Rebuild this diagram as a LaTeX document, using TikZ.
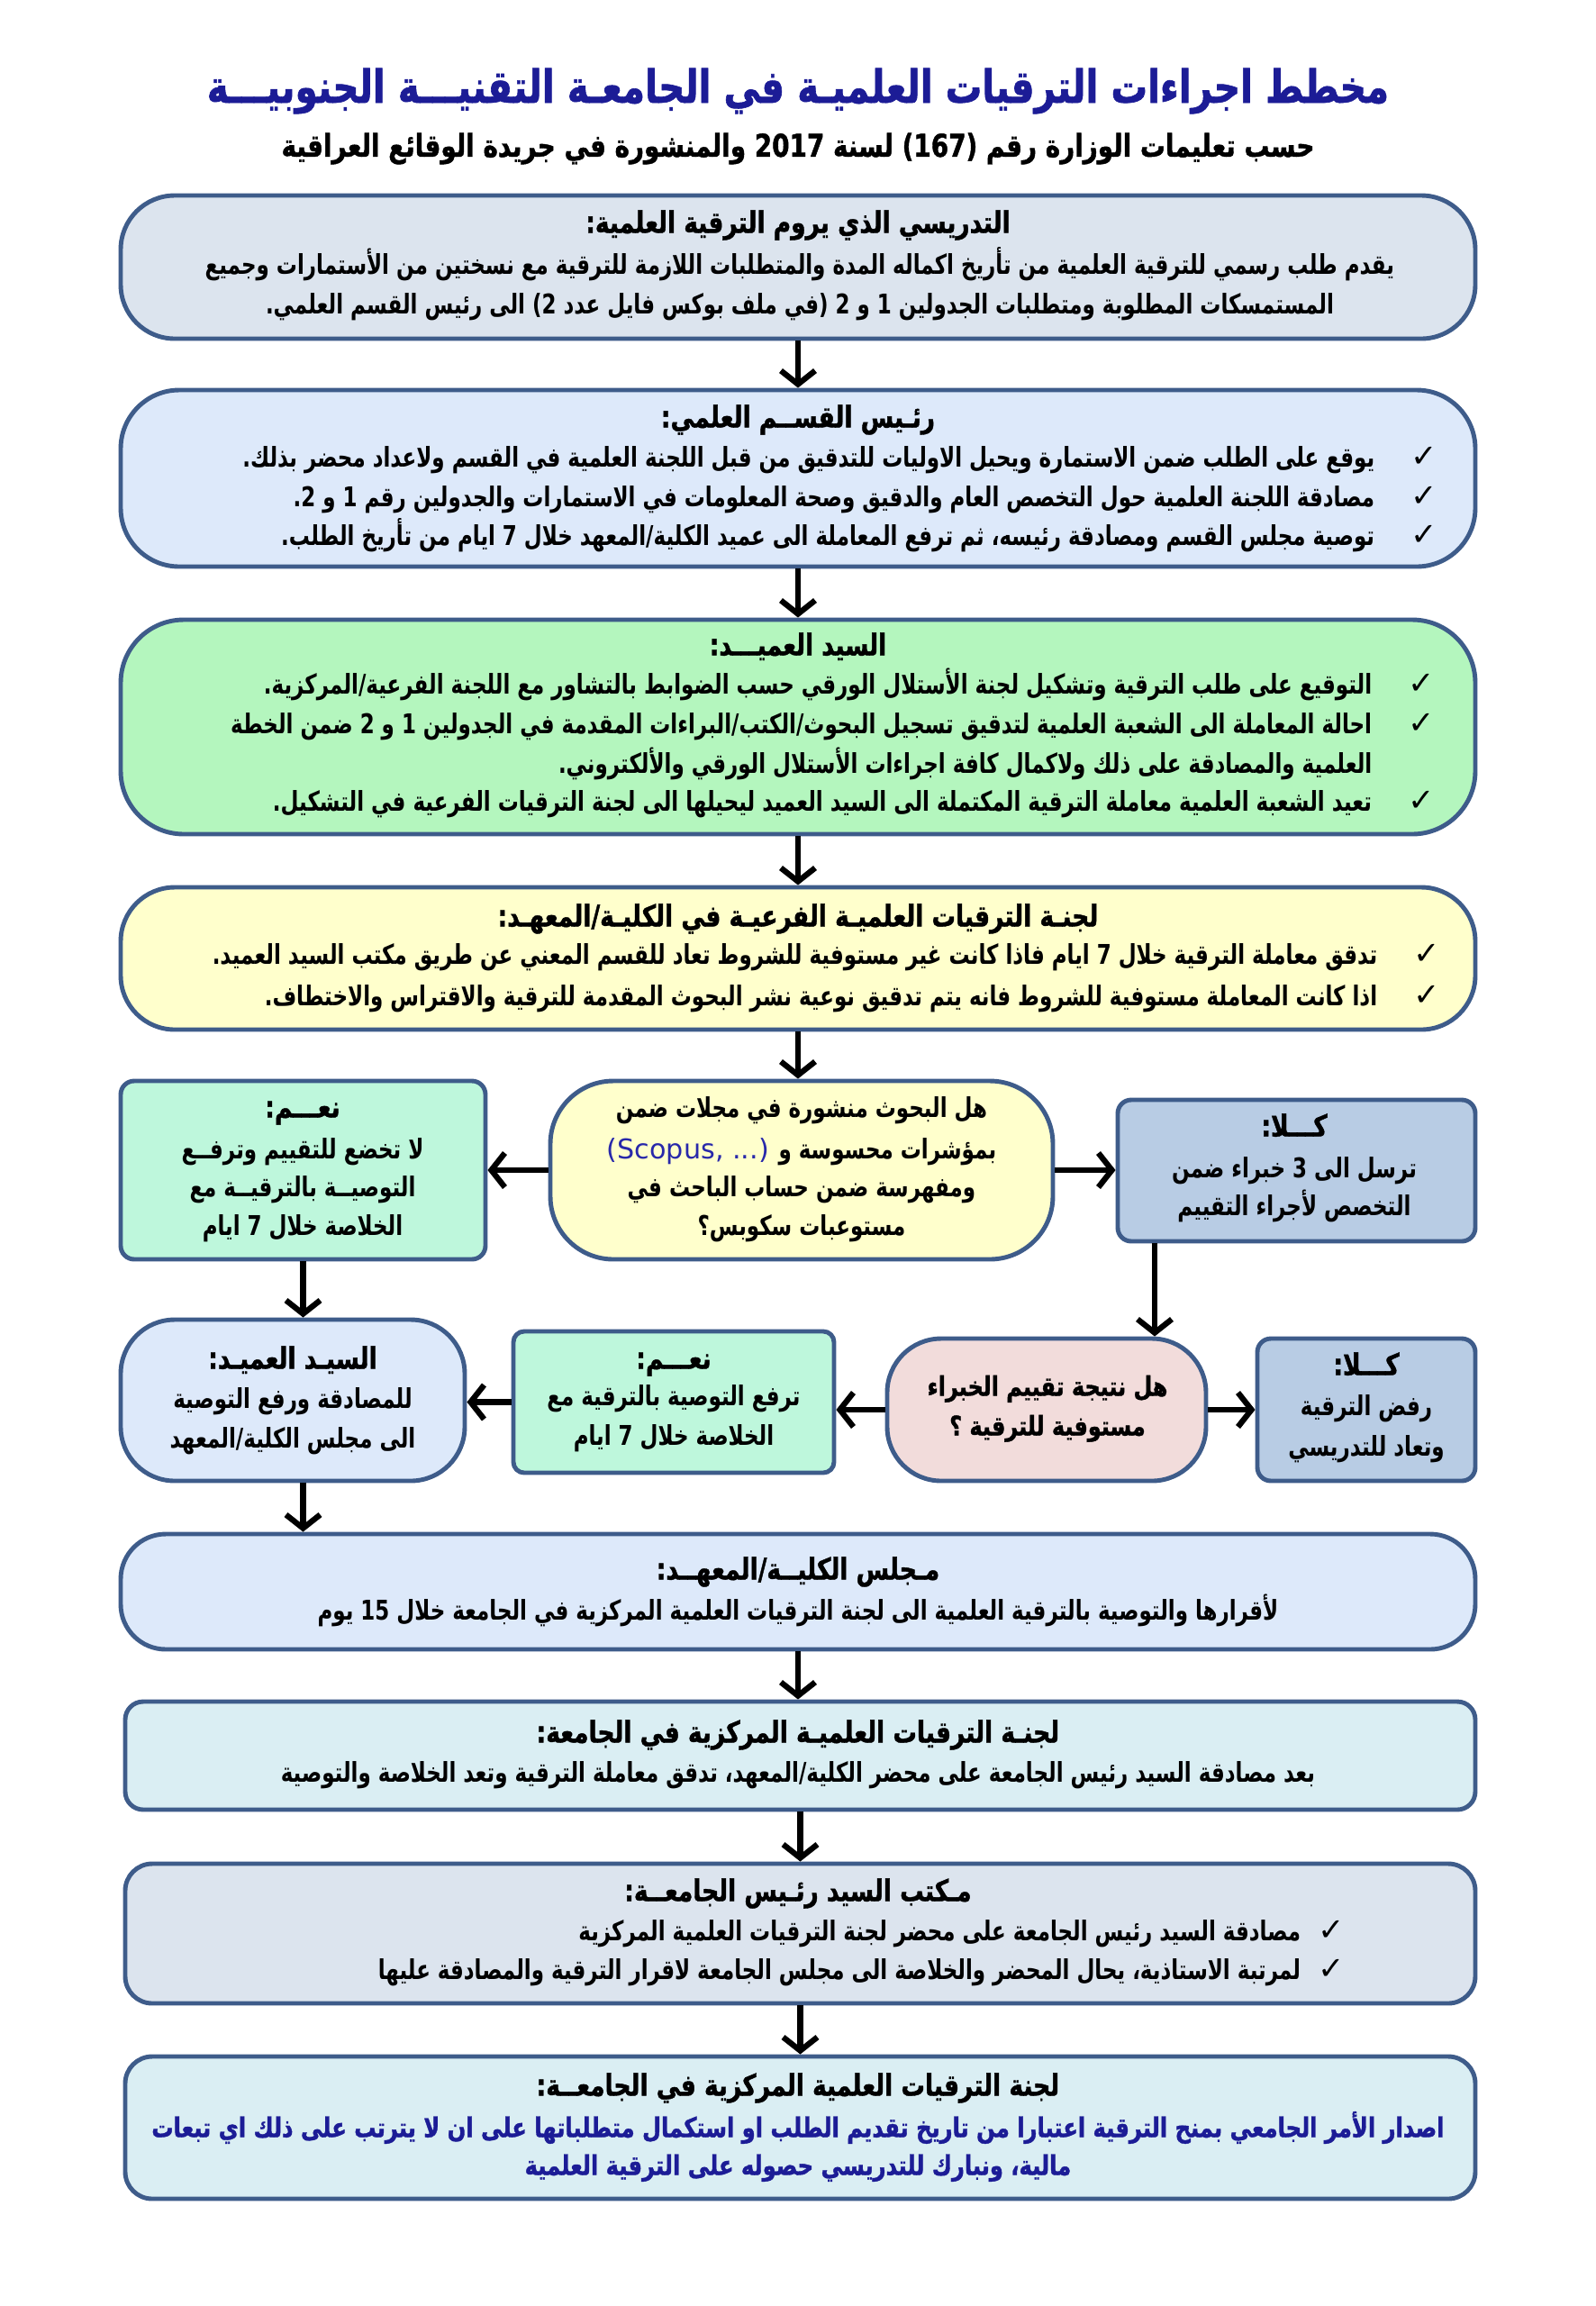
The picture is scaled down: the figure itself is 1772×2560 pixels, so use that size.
\documentclass[tikz,border=0pt]{standalone}
\usepackage{fontspec}
\usetikzlibrary{arrows.meta}
\TeXXeTstate=1
\newfontfamily\ar[Script=Arabic,FakeStretch=0.8]{DejaVu Sans}
\newfontfamily\arh[Script=Arabic,FakeStretch=0.8,FakeBold=1.2]{DejaVu Sans Bold}
\newfontfamily\arb[Script=Arabic,FakeStretch=0.76]{DejaVu Sans}
\newfontfamily\latf{DejaVu Sans}
\newcommand\rtl[1]{\beginR#1\endR}
\definecolor{bd}{RGB}{62,92,138}
\definecolor{cA}{RGB}{220,228,238}
\definecolor{cB}{RGB}{221,233,250}
\definecolor{cG}{RGB}{180,246,190}
\definecolor{cY}{RGB}{255,255,204}
\definecolor{cM}{RGB}{190,247,220}
\definecolor{cK}{RGB}{184,204,228}
\definecolor{cP}{RGB}{242,220,219}
\definecolor{cC}{RGB}{218,238,243}
\definecolor{tb}{RGB}{28,28,150}
\definecolor{sc}{RGB}{40,40,170}
\tikzset{
  box/.style={draw=bd, line width=1.4pt, inner sep=0pt},
  txt/.style={inner sep=0pt, font=\arb\bfseries\fontsize{8.6}{11}\selectfont, text height=2.3mm, text depth=0.8mm},
  hd/.style={txt, font=\arh\fontsize{9.4}{11}\selectfont},
  chk/.style={inner sep=0pt, font=\latf\fontsize{10}{11}\selectfont, text height=2.3mm, text depth=0.8mm},
  arr/.style={line width=1.8pt, -{Straight Barb[length=1.5mm,width=3.8mm]}},
}
\begin{document}
\begin{tikzpicture}[x=0.1mm,y=-0.1mm]
\useasboundingbox (0,0) rectangle (1772,2560);
% title
\node[inner sep=0pt, font=\arh\fontsize{14.4}{18}\selectfont, text=tb] (title) at (886,101) {\rtl{مخطط اجراءات الترقيات العلميـة في الجامعـة التقنيـــة الجنوبيـــة}};
\node[inner sep=0pt, font=\arh\fontsize{9.9}{13}\selectfont] (sub) at (886,165) {\rtl{حسب تعليمات الوزارة رقم (167) لسنة 2017 والمنشورة في جريدة الوقائع العراقية}};
% boxes
\node[box, fill=cA, rounded corners=6mm, minimum width=150.4mm, minimum height=15.9mm] (b1) at (886,296.5) {};
\node[box, fill=cB, rounded corners=6.5mm, minimum width=150.4mm, minimum height=19.6mm] (b2) at (886,531) {};
\node[box, fill=cG, rounded corners=7mm, minimum width=150.4mm, minimum height=23.8mm] (b3) at (886,807) {};
\node[box, fill=cY, rounded corners=6mm, minimum width=150.4mm, minimum height=15.8mm] (b4) at (886,1064) {};
\node[box, fill=cM, rounded corners=1.5mm, minimum width=40.5mm, minimum height=19.8mm] (n1) at (336.5,1299) {};
\node[box, fill=cY, rounded corners=7mm, minimum width=55.8mm, minimum height=19.8mm] (c) at (890,1299) {};
\node[box, fill=cK, rounded corners=1.5mm, minimum width=39.7mm, minimum height=15.7mm] (k1) at (1439.5,1299.5) {};
\node[box, fill=cB, rounded corners=6mm, minimum width=38.2mm, minimum height=17.9mm] (d2l) at (325,1554.5) {};
\node[box, fill=cM, rounded corners=1.2mm, minimum width=35.6mm, minimum height=15.7mm] (m2) at (748,1556.5) {};
\node[box, fill=cP, rounded corners=6mm, minimum width=35.4mm, minimum height=15.8mm] (p) at (1162,1565) {};
\node[box, fill=cK, rounded corners=1.5mm, minimum width=24.2mm, minimum height=15.8mm] (k2) at (1517,1565) {};
\node[box, fill=cB, rounded corners=5mm, minimum width=150.4mm, minimum height=12.8mm] (mj) at (886,1767) {};
\node[box, fill=cC, rounded corners=2mm, minimum width=149.9mm, minimum height=12.0mm] (cc) at (888.5,1949) {};
\node[box, fill=cA, rounded corners=3mm, minimum width=149.9mm, minimum height=15.5mm] (mk) at (888.5,2146.5) {};
\node[box, fill=cC, rounded corners=3mm, minimum width=149.9mm, minimum height=15.8mm] (last) at (888.5,2362) {};
% box 1 text
\node[hd] (b1h) at (886,251) {\rtl{التدريسي الذي يروم الترقية العلمية:}};
\node[txt] (b1a) at (888,297) {\rtl{يقدم طلب رسمي  للترقية العلمية من تأريخ اكماله المدة والمتطلبات اللازمة للترقية مع نسختين من الأستمارات وجميع}};
\node[txt] (b1b) at (888,341) {\rtl{المستمسكات المطلوبة ومتطلبات الجدولين 1 و 2  (في ملف بوكس فايل عدد 2) الى رئيس القسم العلمي.}};
% box 2 text
\node[hd] (b2h) at (886,467) {\rtl{رئـيس القســم العلمي:}};
\node[txt, anchor=east] (b2a) at (1527,511) {\rtl{يوقع على الطلب ضمن الاستمارة ويحيل الاوليات للتدقيق من قبل اللجنة العلمية في القسم ولاعداد محضر بذلك.}};
\node[txt, anchor=east] (b2b) at (1527,555) {\rtl{مصادقة اللجنة العلمية حول التخصص العام والدقيق وصحة المعلومات في الاستمارات والجدولين رقم 1 و 2.}};
\node[txt, anchor=east] (b2c) at (1527,598) {\rtl{توصية مجلس القسم ومصادقة رئيسه، ثم ترفع المعاملة الى عميد الكلية/المعهد خلال 7 ايام من تأريخ الطلب.}};
\node[chk] (b2k1) at (1581,511) {✓};
\node[chk] (b2k2) at (1581,555) {✓};
\node[chk] (b2k3) at (1581,598) {✓};
% box 3 text
\node[hd] (b3h) at (886,720) {\rtl{السيد العميـــد:}};
\node[txt, anchor=east] (b3a) at (1524,763) {\rtl{التوقيع على طلب الترقية وتشكيل لجنة الأستلال الورقي حسب الضوابط بالتشاور مع اللجنة الفرعية/المركزية.}};
\node[txt, anchor=east] (b3b) at (1524,807) {\rtl{احالة المعاملة الى الشعبة العلمية لتدقيق تسجيل البحوث/الكتب/البراءات المقدمة في الجدولين 1 و 2 ضمن الخطة}};
\node[txt, anchor=east] (b3c) at (1524,851) {\rtl{العلمية والمصادقة على ذلك ولاكمال كافة اجراءات الأستلال الورقي والألكتروني.}};
\node[txt, anchor=east] (b3d) at (1524,893) {\rtl{تعيد الشعبة العلمية معاملة الترقية المكتملة الى السيد العميد ليحيلها الى لجنة الترقيات الفرعية في التشكيل.}};
\node[chk] (b3k1) at (1578,763) {✓};
\node[chk] (b3k2) at (1578,807) {✓};
\node[chk] (b3k3) at (1578,893) {✓};
% box 4 text
\node[hd] (b4h) at (886,1021) {\rtl{لجنـة الترقيات العلميـة الفرعيـة في الكليـة/المعهـد:}};
\node[txt, anchor=east] (b4a) at (1530,1063) {\rtl{تدقق معاملة الترقية خلال 7 ايام فاذا كانت غير مستوفية للشروط تعاد للقسم المعني عن طريق مكتب السيد العميد.}};
\node[txt, anchor=east] (b4b) at (1530,1109) {\rtl{اذا كانت المعاملة مستوفية للشروط فانه يتم تدقيق نوعية نشر البحوث المقدمة للترقية والاقتراس والاختطاف.}};
\node[chk] (b4k1) at (1584,1063) {✓};
\node[chk] (b4k2) at (1584,1109) {✓};
% row 1
\node[hd] (n1h) at (336,1233) {\rtl{نعـــم:}};
\node[txt] (n1a) at (336,1279) {\rtl{لا تخضع للتقييم وترفــع}};
\node[txt] (n1b) at (336,1321) {\rtl{التوصيــة بالترقيــة مع}};
\node[txt] (n1c) at (336,1364) {\rtl{الخلاصة خلال 7 ايام}};
\node[txt] (ca) at (890,1233) {\rtl{هل البحوث منشورة في مجلات ضمن}};
\node[txt] (cb) at (890,1279) {{\latf\mdseries\fontsize{8.6}{11}\selectfont\textcolor{sc}{(Scopus, ...)}} \rtl{بمؤشرات محسوسة و}};
\node[txt] (cc1) at (890,1321) {\rtl{ومفهرسة ضمن حساب الباحث في}};
\node[txt] (cd) at (890,1364) {\rtl{مستوعبات سكوبس؟}};
\node[hd] (k1h) at (1437,1254) {\rtl{كـــلا:}};
\node[txt] (k1a) at (1437,1300) {\rtl{ترسل الى 3 خبراء ضمن}};
\node[txt] (k1b) at (1437,1342) {\rtl{التخصص لأجراء التقييم}};
% row 2
\node[hd] (d2h) at (325,1512) {\rtl{السيـد العميـد:}};
\node[txt] (d2a) at (325,1556) {\rtl{للمصادقة  ورفع التوصية}};
\node[txt] (d2b) at (325,1600) {\rtl{الى مجلس الكلية/المعهد}};
\node[hd] (m2h) at (748,1512) {\rtl{نعـــم:}};
\node[txt] (m2a) at (748,1553) {\rtl{ترفع التوصية بالترقية مع}};
\node[txt] (m2b) at (748,1597) {\rtl{الخلاصة خلال 7 ايام}};
\node[hd, font=\arh\fontsize{8.5}{11}\selectfont] (pa) at (1163,1542) {\rtl{هل نتيجة تقييم الخبراء}};
\node[hd, font=\arh\fontsize{8.5}{11}\selectfont] (pb) at (1163,1586) {\rtl{مستوفية للترقية ؟}};
\node[hd] (k2h) at (1517,1519) {\rtl{كـــلا:}};
\node[txt] (k2a) at (1517,1564) {\rtl{رفض الترقية}};
\node[txt] (k2b) at (1517,1609) {\rtl{وتعاد للتدريسي}};
% lower boxes
\node[hd] (mjh) at (886,1746) {\rtl{مـجلس الكليــة/المعهــد:}};
\node[txt] (mja) at (886,1791) {\rtl{لأقرارها والتوصية بالترقية العلمية الى لجنة الترقيات العلمية المركزية  في الجامعة خلال 15 يوم}};
\node[hd] (cch) at (886,1927) {\rtl{لجنـة الترقيات العلميـة المركزية في الجامعة:}};
\node[txt] (cca) at (886,1971) {\rtl{بعد مصادقة السيد رئيس الجامعة على محضر الكلية/المعهد، تدقق معاملة الترقية وتعد الخلاصة والتوصية}};
\node[hd] (mkh) at (886,2103) {\rtl{مـكتب السيد رئـيس الجامعــة:}};
\node[txt, anchor=east] (mka) at (1445,2147) {\rtl{مصادقة السيد رئيس الجامعة على محضر لجنة الترقيات العلمية المركزية}};
\node[txt, anchor=east] (mkb) at (1445,2190) {\rtl{لمرتبة الاستاذية، يحال المحضر والخلاصة الى مجلس الجامعة لاقرار الترقية والمصادقة عليها}};
\node[chk] (mkk1) at (1478,2147) {✓};
\node[chk] (mkk2) at (1478,2190) {✓};
\node[hd] (lh) at (886,2319) {\rtl{لجنة الترقيات العلمية المركزية في الجامعــة:}};
\node[hd, text=tb, font=\arh\fontsize{8.6}{11}\selectfont] (la) at (886,2365) {\rtl{اصدار الأمر الجامعي بمنح الترقية اعتبارا من تاريخ تقديم الطلب او استكمال متطلباتها على ان لا يترتب على ذلك اي تبعات}};
\node[hd, text=tb, font=\arh\fontsize{8.6}{11}\selectfont] (lb) at (886,2407) {\rtl{مالية، ونبارك للتدريسي حصوله على الترقية العلمية}};
% connectors
\coordinate (kx) at (1282,0);
\draw[arr] (b1.south) -- (b2.north);
\draw[arr] (b2.south) -- (b3.north);
\draw[arr] (b3.south) -- (b4.north);
\draw[arr] (b4.south) -- (b4.south |- c.north);
\draw[arr] (c.west) -- (n1.east);
\draw[arr] (c.east) -- (c.east -| k1.west);
\draw[arr] (n1.south) -- (n1.south |- d2l.north);
\draw[arr] (k1.south -| kx) -- (p.north -| kx);
\draw[arr] (p.west) -- (p.west -| m2.east);
\draw[arr] (m2.west) -- (m2.west -| d2l.east);
\draw[arr] (p.east) -- (k2.west);
\draw[arr] (n1.south |- d2l.south) -- (n1.south |- mj.north);
\draw[arr] (mj.south) -- (mj.south |- cc.north);
\draw[arr] (cc.south) -- (mk.north);
\draw[arr] (mk.south) -- (last.north);
\end{tikzpicture}
\end{document}
